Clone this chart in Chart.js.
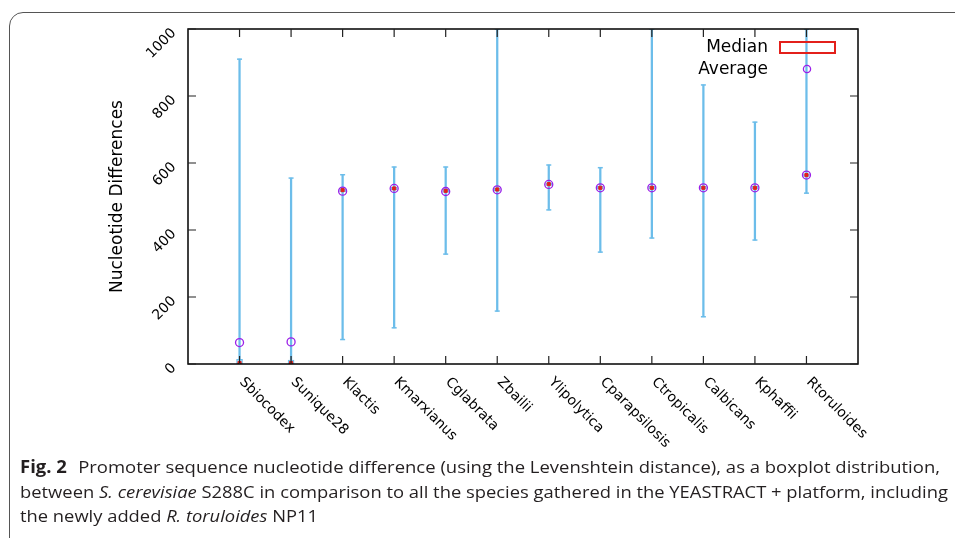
<!DOCTYPE html>
<html>
<head>
<meta charset="utf-8">
<script src="https://cdn.jsdelivr.net/npm/chart.js@4"></script>
<style>
  html, body { margin: 0; padding: 0; background: #fff; }
  body { width: 955px; height: 538px; position: relative; overflow: hidden; }
  #frame {
    position: absolute; left: 9px; top: 12px; width: 1000px; height: 600px;
    border: 1px solid #555; border-radius: 14px; box-sizing: border-box;
  }
  #chart { position: absolute; left: 0; top: 0; }
  #caption {
    position: absolute; left: 20px; top: 455px;
    font-family: "Open Sans", "DejaVu Sans", sans-serif; font-size: 17px;
    color: #231f20; line-height: 24.5px;
  }
  #caption .line { white-space: nowrap; transform-origin: 0 50%; width: max-content; }
  #caption b { font-weight: 700; margin-right: 6px; }
</style>
</head>
<body>
<div id="frame"></div>
<canvas id="chart" width="955" height="538"></canvas>
<div id="caption">
  <div class="line" data-w="920"><b>Fig. 2</b> Promoter sequence nucleotide difference (using the Levenshtein distance), as a boxplot distribution,</div>
  <div class="line" data-w="928">between <i>S. cerevisiae</i> S288C in comparison to all the species gathered in the YEASTRACT + platform, including</div>
  <div class="line" data-w="298">the newly added <i>R. toruloides</i> NP11</div>
</div>
<script>
const categories = ["Sbiocodex", "Sunique28", "Klactis", "Kmarxianus", "Cglabrata", "Zbailii",
    "Ylipolytica", "Cparapsilosis", "Ctropicalis", "Calbicans", "Kphaffii", "Rtoruloides"];

const whiskerMin = [0, 0, 73, 108, 328, 158, 460, 334, 376, 141, 370, 510];
const whiskerMax = [910, 555, 565, 588, 588, 1000, 594, 586, 1000, 833, 722, 1000];
const boxLow = [0, 0, 514, 520, 512, 516, 533, 522, 522, 522, 522, 560];
const boxHigh = [14, 12, 524, 528, 522, 526, 541, 530, 530, 530, 530, 568];
const medians = [3, 3, 519, 524, 517, 521, 537, 526, 526, 526, 526, 564];
const averages = [64, 66, 516, 524, 515, 520, 536, 526, 526, 526, 526, 564];

const yTicks = [0, 200, 400, 600, 800, 1000];
const yTitle = "Nucleotide Differences";
const legendLabels = ["Median", "Average"];

const blue = "#6cbdea";
const red = "#e3201b";
const purple = "#9b1fe8";

function pts(arr) {
    return arr.map((v, i) => ({ x: i + 1, y: v }));
}

const axesPlugin = {
    id: "gnuplotAxes",
    afterDraw(chart) {
        const ctx = chart.ctx;
        const a = chart.chartArea;
        const xs = chart.scales.x;
        const ys = chart.scales.y;
        ctx.save();

        // frame
        ctx.strokeStyle = "#000";
        ctx.lineWidth = 1.5;
        ctx.strokeRect(a.left, a.top, a.right - a.left, a.bottom - a.top);

        // inward ticks
        ctx.lineWidth = 1.2;
        ctx.strokeStyle = "#222";
        ctx.beginPath();
        yTicks.forEach(v => {
            const y = ys.getPixelForValue(v);
            ctx.moveTo(a.left, y); ctx.lineTo(a.left + 8, y);
            ctx.moveTo(a.right, y); ctx.lineTo(a.right - 8, y);
        });
        categories.forEach((c, i) => {
            const x = xs.getPixelForValue(i + 1);
            ctx.moveTo(x, a.top); ctx.lineTo(x, a.top + 8);
            ctx.moveTo(x, a.bottom); ctx.lineTo(x, a.bottom - 8);
        });
        ctx.stroke();

        // y tick labels
        ctx.fillStyle = "#000";
        ctx.font = "14px 'DejaVu Sans'";
        ctx.textAlign = "right";
        ctx.textBaseline = "middle";
        yTicks.forEach(v => {
            const y = ys.getPixelForValue(v);
            ctx.save();
            ctx.translate(a.left - 14, y + 2);
            ctx.rotate(-Math.PI / 4);
            ctx.fillText(String(v), 0, 0);
            ctx.restore();
        });

        // x tick labels
        ctx.font = "14px 'DejaVu Sans'";
        ctx.textAlign = "left";
        categories.forEach((c, i) => {
            const x = xs.getPixelForValue(i + 1);
            ctx.save();
            ctx.translate(x + 2, a.bottom + 16);
            ctx.rotate(Math.PI / 4);
            ctx.fillText(c, 0, 0);
            ctx.restore();
        });

        // y axis title
        ctx.font = "17px 'DejaVu Sans'";
        ctx.textAlign = "center";
        ctx.save();
        ctx.translate(118, (a.top + a.bottom) / 2);
        ctx.rotate(-Math.PI / 2);
        ctx.fillText(yTitle, 0, 0);
        ctx.restore();

        // legend
        ctx.textAlign = "right";
        ctx.fillText(legendLabels[0], 768, 48);
        ctx.fillText(legendLabels[1], 768, 70);
        ctx.strokeStyle = red;
        ctx.lineWidth = 2;
        ctx.strokeRect(780, 42, 55, 11);
        ctx.strokeStyle = purple;
        ctx.lineWidth = 1.3;
        ctx.beginPath();
        ctx.arc(807, 69, 3.6, 0, Math.PI * 2);
        ctx.stroke();

        ctx.restore();
    }
};

new Chart(document.getElementById("chart"), {
    type: "bar",
    data: {
        datasets: [
            {
                label: "Median",
                type: "scatter",
                data: pts(medians),
                pointStyle: "rect",
                radius: 2.2,
                borderWidth: 1,
                borderColor: red,
                backgroundColor: red,
                order: 1
            },
            {
                label: "Average",
                type: "scatter",
                data: pts(averages),
                pointStyle: "circle",
                radius: 4,
                borderWidth: 1.3,
                borderColor: purple,
                backgroundColor: "rgba(0,0,0,0)",
                order: 0
            },
            {
                label: "box",
                data: categories.map((c, i) => ({ x: i + 1, y: [boxLow[i], boxHigh[i]] })),
                barThickness: 6,
                grouped: false,
                backgroundColor: "#9ad3f2",
                borderColor: blue,
                borderWidth: 1,
                borderSkipped: false,
                order: 2
            },
            {
                label: "whisker",
                data: categories.map((c, i) => ({ x: i + 1, y: [whiskerMin[i], whiskerMax[i]] })),
                barThickness: 1.6,
                grouped: false,
                backgroundColor: blue,
                order: 4
            },
            {
                label: "caps",
                type: "scatter",
                data: pts(whiskerMin).concat(pts(whiskerMax)),
                pointStyle: "line",
                radius: 2.5,
                borderWidth: 1.5,
                borderColor: blue,
                order: 3
            }
        ]
    },
    options: {
        responsive: false,
        animation: false,
        layout: { padding: { left: 188, top: 29, right: 97, bottom: 174 } },
        plugins: { legend: { display: false }, tooltip: { enabled: false } },
        scales: {
            x: { type: "linear", min: 0, max: 13, offset: false, display: false },
            y: { min: 0, max: 1000, display: false }
        }
    },
    plugins: [axesPlugin]
});

document.querySelectorAll("#caption .line").forEach(el => {
    const w = el.getBoundingClientRect().width;
    el.style.transform = "scaleX(" + (Number(el.dataset.w) / w) + ")";
});
</script>
</body>
</html>
